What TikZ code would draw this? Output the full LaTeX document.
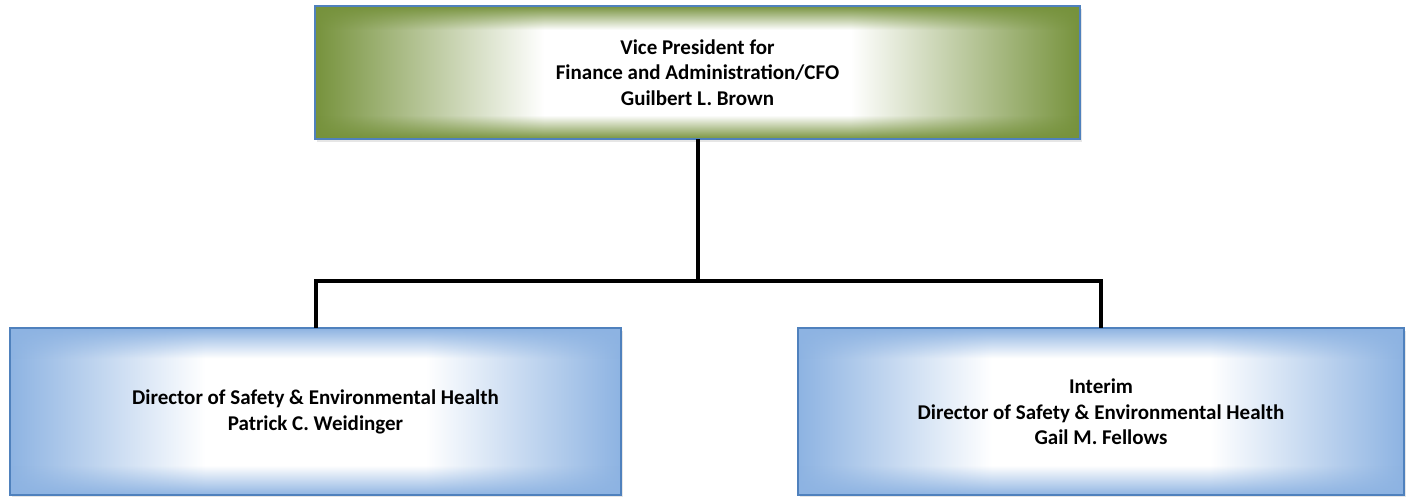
\documentclass[tikz,border=0pt]{standalone}
\usepackage{fontspec}
\setmainfont{Carlito}
\usetikzlibrary{positioning,shadows,fadings}

\definecolor{oliveedge}{RGB}{118,146,60}
\definecolor{skyedge}{RGB}{141,179,226}
\definecolor{boxline}{RGB}{79,129,189}

\pgfdeclarehorizontalshading{olivesweep}{100bp}{color(0bp)=(oliveedge); color(25bp)=(oliveedge); color(40bp)=(white); color(60bp)=(white); color(75bp)=(oliveedge); color(100bp)=(oliveedge)}
\pgfdeclarehorizontalshading{skysweep}{100bp}{color(0bp)=(skyedge); color(25bp)=(skyedge); color(41bp)=(white); color(59bp)=(white); color(75bp)=(skyedge); color(100bp)=(skyedge)}
\pgfdeclareverticalshading{rimshade}{100bp}{color(0bp)=(pgftransparent!0); color(25bp)=(pgftransparent!0); color(34bp)=(pgftransparent!100); color(66bp)=(pgftransparent!100); color(75bp)=(pgftransparent!0); color(100bp)=(pgftransparent!0)}
\pgfdeclarefading{rimfade}{\pgfuseshading{rimshade}}

\begin{document}
\begin{tikzpicture}[x=1pt, y=1pt,
  chart/.style={inner sep=0pt, align=center,
    font=\bfseries\fontsize{21}{25.5}\selectfont,
    drop shadow={shadow xshift=2pt, shadow yshift=-3pt, opacity=0.2}},
  vpbox/.style={chart, shading=olivesweep, minimum width=765pt, minimum height=133pt,
    postaction={fill=oliveedge, path fading=rimfade},
    postaction={draw=boxline, line width=2pt}},
  dirbox/.style={chart, shading=skysweep, minimum height=167pt,
    postaction={fill=skyedge, path fading=rimfade},
    postaction={draw=boxline, line width=2pt}},
  link/.style={line width=4pt, black}]
  \useasboundingbox (0,0) rectangle (1406,497);
  \node[vpbox] (vp) at (697.5,424.5) {Vice President for\\Finance and Administration/CFO\\Guilbert L. Brown};
  \node[dirbox, minimum width=611pt, below=189pt of vp, xshift=-382pt] (dir) {Director of Safety \& Environmental Health\\Patrick C. Weidinger};
  \node[dirbox, minimum width=606pt, below=189pt of vp, xshift=403.5pt] (interim) {Interim\\Director of Safety \& Environmental Health\\Gail M. Fellows};
  \coordinate (bar) at (697.5,216);
  \draw[link] (vp.south) -- (bar);
  \draw[link] (dir.north) |- (bar) -| (interim.north);
\end{tikzpicture}
\end{document}
